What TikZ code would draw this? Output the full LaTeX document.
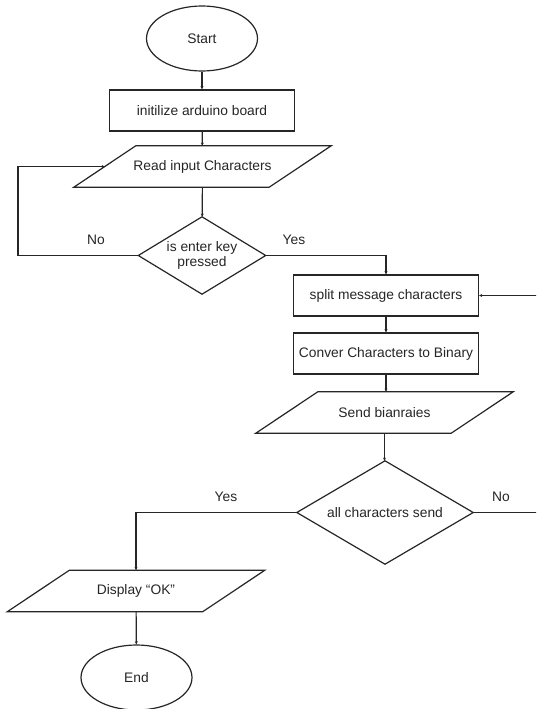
\documentclass[tikz,border=0pt]{standalone}
\usepackage{fontspec}
\setmainfont{Liberation Sans}
\usetikzlibrary{shapes.geometric,arrows.meta,calc}

\tikzset{
  line/.style={draw=black!85, line width=1.2pt},
  flow/.style={line, -{Stealth[length=3.2pt,width=3pt]}},
  txt/.style={font=\fontsize{13.8}{15.5}\selectfont, text=black!85},
  term/.style={txt, line, ellipse, inner sep=0pt, minimum width=111pt, minimum height=65pt},
  procbox/.style={txt, line, rectangle, inner sep=0pt, minimum width=185pt, minimum height=41pt},
  iobox/.style={txt, inner sep=0pt, minimum width=195pt, minimum height=41pt},
  decbox/.style={txt, inner sep=0pt, align=center},
  lbl/.style={txt}
}

% slanted outline of an input/output box around a named node
\newcommand\iooutline[1]{%
  \draw[line] ($(#1.south west)+(-31pt,0pt)$) -- ($(#1.south east)+(-31pt,0pt)$)
    -- ($(#1.north east)+(31pt,0pt)$) -- ($(#1.north west)+(31pt,0pt)$) -- cycle;}
% rhombus outline of a decision box around a named node
\newcommand\decoutline[1]{%
  \draw[line] (#1.north) -- (#1.east) -- (#1.south) -- (#1.west) -- cycle;}

\begin{document}
\begin{tikzpicture}[x=1pt,y=-1pt]
  \clip (0,0) rectangle (536,709);
  \fill[white] (0,0) rectangle (536,709);

  % main column
  \node[term]    (start) at (202,38.5)  {Start};
  \node[procbox] (init)  at (202,110.5) {initilize arduino board};
  \node[iobox]   (read)  at (202.5,166.5) {Read input Characters};
  \iooutline{read}
  \node[decbox, minimum width=127pt, minimum height=77pt] (enter) at (202,255.5)
    {is enter key\\pressed};
  \decoutline{enter}

  % right column
  \node[procbox] (split) at (386,295.5) {split message characters};
  \node[procbox] (conv)  at (386,353.5) {Conver Characters to Binary};
  \node[iobox]   (send)  at (384.5,412.5) {Send bianraies};
  \iooutline{send}
  \node[decbox, minimum width=176pt, minimum height=103pt] (all) at (385,512.5)
    {all characters send};
  \decoutline{all}

  % output column
  \node[iobox] (disp) at (136,591) {Display “OK”};
  \iooutline{disp}
  \node[term]  (end)  at (136.5,677.5) {End};

  % loop-back corners
  \coordinate (loopL) at (18,255.5);
  \coordinate (loopR) at (545,512.5);

  % connectors
  \draw[flow] (start) -- (init);
  \draw[flow] (init) -- (read);
  \draw[flow] (read) -- (enter);
  \draw[flow] (enter.west) -- (loopL) |- (read.west);
  \draw[flow] (enter.east) -| (split.north);
  \draw[flow] (split) -- (conv);
  \draw[flow] (conv.south) -- (conv.south |- send.north);
  \draw[flow] (send.south) -- (send.south |- all.north);
  \draw[flow] (all.west) -| (disp.north);
  \draw[flow] (all.east) -- (loopR) |- (split.east);
  \draw[flow] (disp) -- (end);

  % branch labels
  \node[lbl] (noA)  at (96,240)  {No};
  \node[lbl] (yesA) at (294,240) {Yes};
  \node[lbl] (yesB) at (226,497) {Yes};
  \node[lbl] (noB)  at (501,497) {No};
\end{tikzpicture}
\end{document}
